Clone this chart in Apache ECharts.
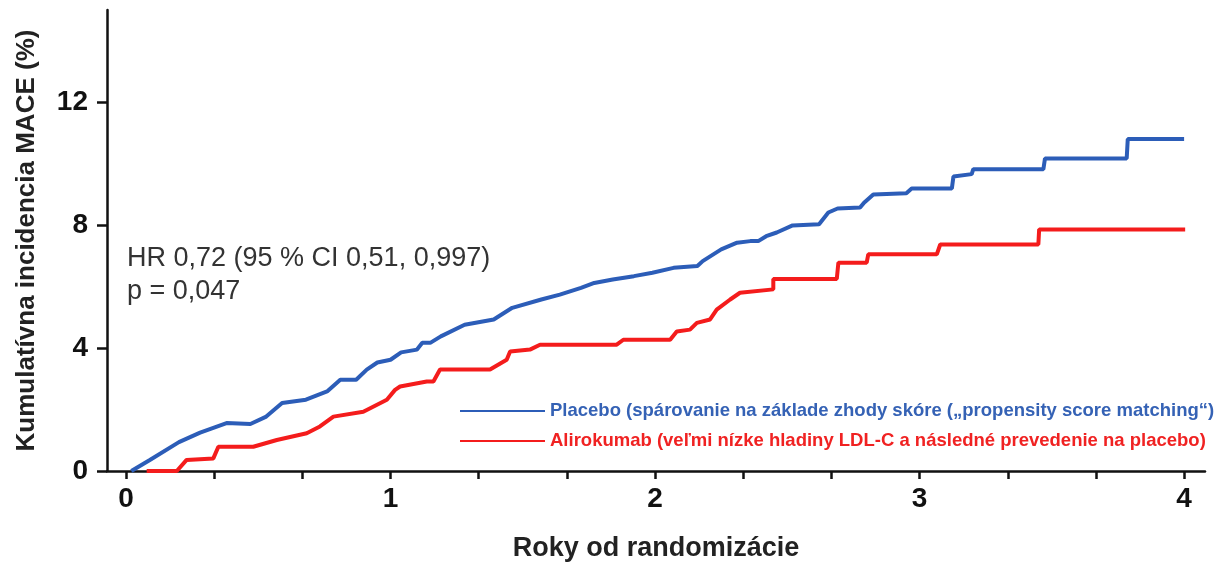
<!DOCTYPE html>
<html>
<head>
<meta charset="utf-8">
<script src="https://cdn.jsdelivr.net/npm/echarts@6/dist/echarts.min.js"></script>
<style>
html,body{margin:0;padding:0;background:#fff;}
#chart{width:1221px;height:564px;}
</style>
</head>
<body>
<div id="chart"></div>
<script>
// ---- data ----
const seriesNames = [
  'Placebo (spárovanie na základe zhody skóre („propensity score matching“)',
  'Alirokumab (veľmi nízke hladiny LDL-C a následné prevedenie na placebo)'
];
const placeboYears = [0.02,0.09,0.20,0.28,0.38,0.47,0.53,0.59,0.68,0.76,0.81,0.87,0.91,0.95,1.00,1.04,1.10,1.12,1.15,1.19,1.28,1.39,1.46,1.57,1.64,1.72,1.77,1.84,1.92,1.99,2.07,2.16,2.18,2.25,2.31,2.36,2.39,2.42,2.46,2.52,2.62,2.655,2.69,2.775,2.79,2.825,2.95,2.97,3.122,3.128,3.197,3.203,3.468,3.474,3.783,3.787,4.0];
const placeboMace  = [0,0.36,0.94,1.25,1.56,1.53,1.77,2.21,2.32,2.59,2.97,2.97,3.30,3.53,3.62,3.86,3.95,4.17,4.17,4.38,4.76,4.93,5.31,5.58,5.74,5.96,6.12,6.23,6.34,6.45,6.61,6.67,6.83,7.21,7.43,7.48,7.48,7.64,7.76,7.99,8.03,8.41,8.54,8.57,8.73,9.0,9.04,9.19,9.19,9.58,9.66,9.82,9.82,10.17,10.17,10.8,10.8];
const alirokumabYears = [0.078,0.192,0.229,0.33,0.349,0.481,0.57,0.683,0.733,0.784,0.897,0.986,1.017,1.036,1.137,1.162,1.187,1.376,1.439,1.452,1.527,1.565,1.855,1.880,2.057,2.082,2.132,2.158,2.208,2.233,2.284,2.321,2.447,2.447,2.687,2.693,2.800,2.806,3.065,3.078,3.449,3.452,4.004];
const alirokumabMace  = [0,0,0.36,0.41,0.79,0.79,1.01,1.23,1.45,1.77,1.93,2.32,2.64,2.75,2.91,2.91,3.30,3.30,3.62,3.89,3.95,4.11,4.11,4.27,4.27,4.54,4.60,4.82,4.93,5.25,5.58,5.80,5.91,6.25,6.25,6.78,6.78,7.05,7.05,7.37,7.37,7.86,7.86];
const xTickValues = [0,0.3333,0.6667,1,1.3333,1.6667,2,2.3333,2.6667,3,3.3333,3.6667,4];
const xLabelValues = [0,1,2,3,4];
const yLabelValues = [0,4,8,12];
const xAxisName = 'Roky od randomizácie';
const yAxisName = 'Kumulatívna incidencia MACE (%)';
const annotationLines = ['HR 0,72 (95 % CI 0,51, 0,997)', 'p = 0,047'];
// -----------------------------------------------

const blue = '#2c5db8';
const red = '#f41c1c';
const font = '"Liberation Sans", Arial, sans-serif';

function pairs(xs, ys){ return xs.map((x,i)=>[x, ys[i]]); }

const chart = echarts.init(document.getElementById('chart'), null, {renderer:'canvas'});
chart.setOption({
  animation:false,
  backgroundColor:'#ffffff',
  grid:{left:107, right:16, top:10, bottom:93, containLabel:false, outerBoundsMode:'none'},
  xAxis:{
    type:'value', min:-0.072, max:4.079,
    name:xAxisName, nameLocation:'middle', nameGap:64,
    nameTextStyle:{fontFamily:font, fontSize:27, fontWeight:'bold', color:'#222'},
    axisLine:{onZero:false, lineStyle:{color:'#111', width:2.5}},
    axisTick:{show:true, inside:false, length:8, customValues:xTickValues, lineStyle:{color:'#111', width:2.5}},
    axisLabel:{customValues:xLabelValues, margin:14, fontFamily:font, fontSize:28, fontWeight:'bold', color:'#111'},
    splitLine:{show:false}
  },
  yAxis:{
    type:'value', min:0, max:15,
    name:yAxisName, nameLocation:'middle', nameGap:67, nameRotate:90,
    nameTextStyle:{fontFamily:font, fontSize:26, fontWeight:'bold', color:'#222'},
    axisLine:{onZero:false, lineStyle:{color:'#111', width:2.5}},
    axisTick:{show:true, length:10, customValues:yLabelValues, lineStyle:{color:'#111', width:2.5}},
    axisLabel:{customValues:yLabelValues, margin:19, fontFamily:font, fontSize:28, fontWeight:'bold', color:'#111'},
    splitLine:{show:false}
  },
  legend:{
    orient:'vertical', left:455, top:396, itemWidth:85, itemHeight:2, itemGap:10,
    icon:'rect',
    textStyle:{fontFamily:font, fontSize:18.5, fontWeight:'bold', lineHeight:20},
    data:[
      {name:seriesNames[0], textStyle:{color:'#3562b5'}},
      {name:seriesNames[1], textStyle:{color:'#f02222'}}
    ]
  },
  graphic:[{
    type:'text', left:127, top:242,
    style:{text:annotationLines.join('\n'), font:'27px "Liberation Sans", Arial, sans-serif', fill:'#333', lineHeight:33}
  }],
  series:[
    {name:seriesNames[0], type:'line', data:pairs(placeboYears, placeboMace), showSymbol:false, symbol:'none',
     color:blue, lineStyle:{color:blue, width:4}, itemStyle:{color:blue}, z:3},
    {name:seriesNames[1], type:'line', data:pairs(alirokumabYears, alirokumabMace), showSymbol:false, symbol:'none',
     color:red, lineStyle:{color:red, width:4}, itemStyle:{color:red}, z:2}
  ]
});
</script>
</body>
</html>
